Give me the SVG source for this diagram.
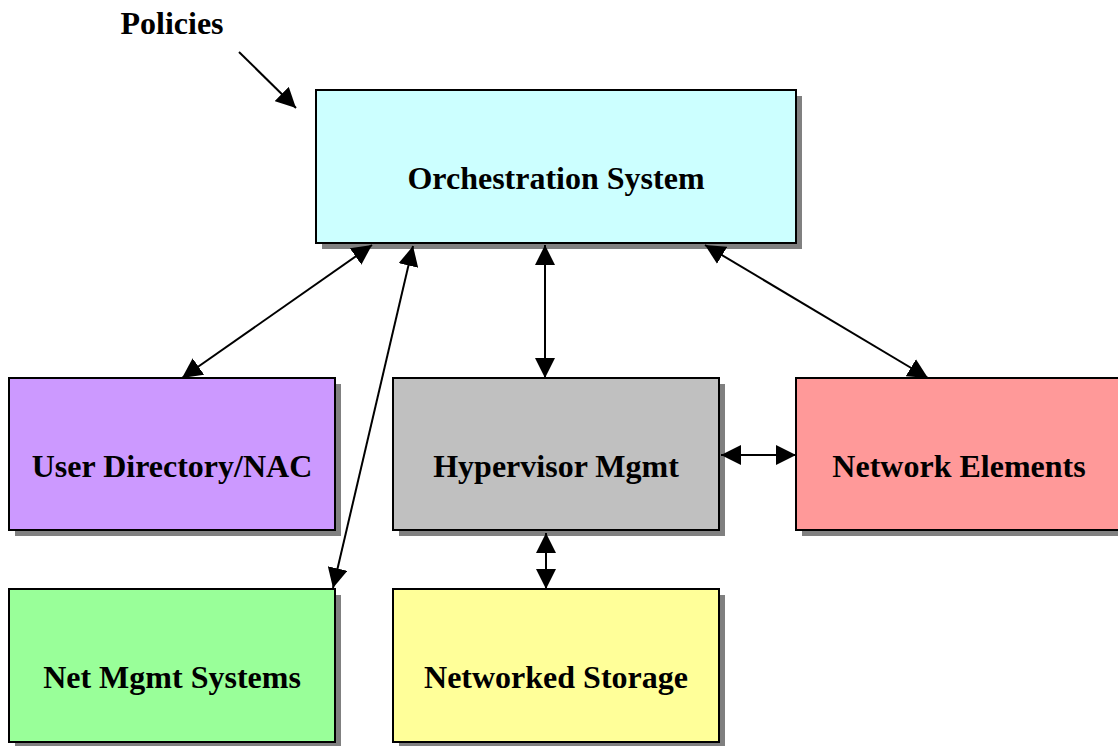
<svg xmlns="http://www.w3.org/2000/svg" width="1118" height="746" viewBox="0 0 1118 746">
<style>
.sh{fill:#808080;stroke:none}
.bx{stroke:#000;stroke-width:2}
.t{font-family:"Liberation Serif","Times New Roman",serif;font-weight:bold;font-size:32px;fill:#000;text-anchor:middle}
.c{stroke:#000;stroke-width:2;fill:none}
</style>
<defs>
<marker id="ah" viewBox="0 0 20 20" refX="20" refY="10" markerWidth="20" markerHeight="20" markerUnits="userSpaceOnUse" orient="auto-start-reverse">
<path d="M0,0 L20,10 L0,20 Z" fill="#000"/>
</marker>
</defs>
<rect width="1118" height="746" fill="#fff"/>
<g id="policies"><text class="t" x="172" y="34">Policies</text></g>
<g id="orchestration">
<rect class="sh" x="322" y="96" width="480" height="153"/>
<rect class="bx" x="316" y="90" width="480" height="153" fill="#ccffff"/>
<text class="t" x="556" y="189">Orchestration System</text>
</g>
<g id="userdir">
<rect class="sh" x="15" y="384" width="326" height="152"/>
<rect class="bx" x="9" y="378" width="326" height="152" fill="#cc99ff"/>
<text class="t" x="172" y="477">User Directory/NAC</text>
</g>
<g id="hypervisor">
<rect class="sh" x="399" y="384" width="326" height="152"/>
<rect class="bx" x="393" y="378" width="326" height="152" fill="#c0c0c0"/>
<text class="t" x="556" y="477">Hypervisor Mgmt</text>
</g>
<g id="netelements">
<rect class="sh" x="802" y="384" width="326" height="152"/>
<rect class="bx" x="796" y="378" width="326" height="152" fill="#ff9999"/>
<text class="t" x="959" y="477">Network Elements</text>
</g>
<g id="netmgmt">
<rect class="sh" x="15" y="595" width="326" height="153"/>
<rect class="bx" x="9" y="589" width="326" height="153" fill="#99ff99"/>
<text class="t" x="172" y="688">Net Mgmt Systems</text>
</g>
<g id="storage">
<rect class="sh" x="399" y="595" width="326" height="153"/>
<rect class="bx" x="393" y="589" width="326" height="153" fill="#ffff99"/>
<text class="t" x="556" y="688">Networked Storage</text>
</g>
<g id="connectors">
<line class="c" x1="239" y1="52" x2="296" y2="108" marker-end="url(#ah)"/>
<line class="c" x1="182" y1="378" x2="372" y2="245" marker-start="url(#ah)" marker-end="url(#ah)"/>
<line class="c" x1="333" y1="588" x2="413" y2="246" marker-start="url(#ah)" marker-end="url(#ah)"/>
<line class="c" x1="545" y1="245" x2="545" y2="378" marker-start="url(#ah)" marker-end="url(#ah)"/>
<line class="c" x1="705" y1="245" x2="928" y2="378" marker-start="url(#ah)" marker-end="url(#ah)"/>
<line class="c" x1="721" y1="455" x2="796" y2="455" marker-start="url(#ah)" marker-end="url(#ah)"/>
<line class="c" x1="546" y1="533" x2="546" y2="589" marker-start="url(#ah)" marker-end="url(#ah)"/>
</g>
</svg>
